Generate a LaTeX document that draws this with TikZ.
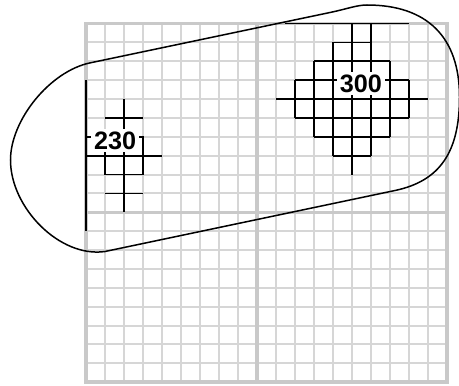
\documentclass[tikz,border=0pt]{standalone}
\usepackage{fontspec}
\setmainfont{Liberation Sans}
\begin{document}
\begin{tikzpicture}[x=0.5pt,y=-0.5pt,
  gridthin/.style={draw=gray!32, line width=1pt},
  gridthick/.style={draw=gray!42, line width=1.8pt},
  figline/.style={draw=black, line width=0.85pt},
  outline/.style={draw=black, line width=0.75pt},
  numlabel/.style={fill=white, inner sep=1.3pt, font=\fontsize{12.6}{14}\selectfont\bfseries}]
\useasboundingbox (0,0) rectangle (459,385);
\begin{scope}[shift={(86,23.5)}, x=9.5pt, y=-9.44pt]
  % grid
  \foreach \i in {1,...,18} {
    \draw[gridthin] (\i,0) -- (\i,19);
  }
  \foreach \j in {1,...,18} {
    \draw[gridthin] (0,\j) -- (19,\j);
  }
  \draw[gridthick] (0,0) rectangle (19,19);
  \draw[gridthick] (9,0) -- (9,19);
  \draw[gridthick] (0,10) -- (19,10);
  % figure 230
  \draw[figline] (0,3) -- (0,11);
  \draw[figline] (2,4) -- (2,10);
  \draw[figline] (1,5) -- (3,5);
  \draw[figline] (0,6) -- (3,6) -- (3,8) -- (1,8) -- (1,6);
  \draw[figline] (0,7) -- (4,7);
  \draw[figline] (1,9) -- (3,9);
  \node[numlabel] (l230) at (1.53,6.22) {230};
  % figure 300
  \draw[figline] (10.47,0) -- (17,0);
  \draw[figline] (14,0) -- (14,8);
  \draw[figline] (15,0) -- (15,7);
  \draw[figline] (13,1) -- (15,1);
  \draw[figline] (13,1) -- (13,7);
  \draw[figline] (12,2) -- (16,2);
  \draw[figline] (12,2) -- (12,6);
  \draw[figline] (16,2) -- (16,6);
  \draw[figline] (11,3) -- (17,3);
  \draw[figline] (11,3) -- (11,5);
  \draw[figline] (17,3) -- (17,5);
  \draw[figline] (10,4) -- (18,4);
  \draw[figline] (11,5) -- (17,5);
  \draw[figline] (12,6) -- (16,6);
  \draw[figline] (13,7) -- (15,7);
  \draw[draw=black, line width=1.4pt] (14,4) -- (15,4);
  \node[numlabel] (l300) at (14.47,3.17) {300};
\end{scope}
% outline
\coordinate (T) at (90,62.9);
\coordinate (P) at (330,12.5);
\coordinate (Q) at (367,5);
\coordinate (R) at (459.5,97);
\coordinate (S) at (395,190.5);
\coordinate (B) at (105,251.5);
\coordinate (L) at (10.5,160);
\draw[outline] (T) -- (P)
  .. controls (348,8.7) and (357,5) .. (Q)
  .. controls (427,5) and (459.5,37) .. (R)
  .. controls (459.5,152) and (440,181) .. (S)
  -- (B)
  .. controls (60,258) and (10.5,208) .. (L)
  .. controls (10.5,120) and (50,71.3) .. (T) -- cycle;
\end{tikzpicture}
\end{document}
